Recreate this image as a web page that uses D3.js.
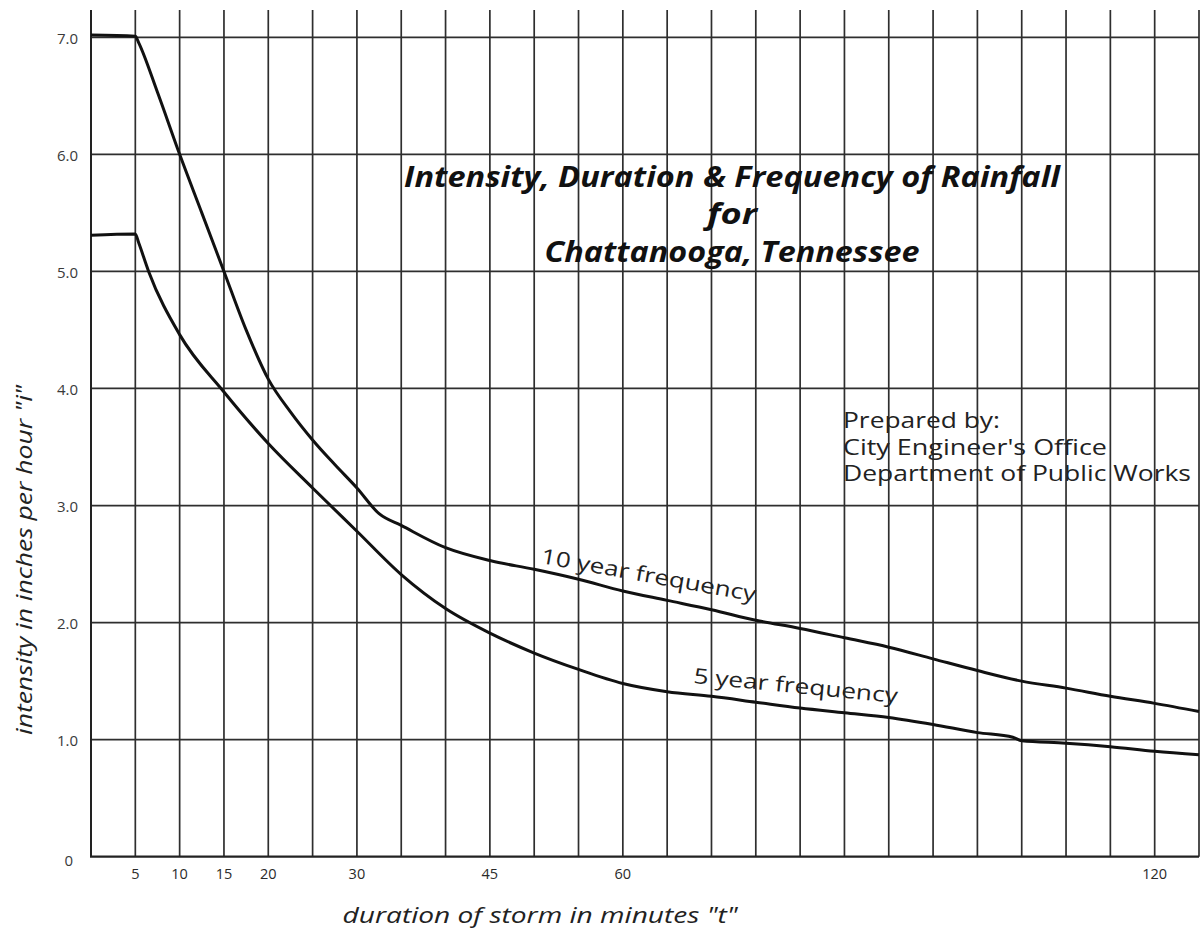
<!DOCTYPE html>
<html>
<head>
<meta charset="utf-8">
<script src="https://cdn.jsdelivr.net/npm/d3@7"></script>
<style>
  html, body { margin: 0; padding: 0; background: #fff; }
  svg { display: block; }
</style>
</head>
<body>
<svg id="chart" width="1201" height="932"></svg>
<script>
// ---- data ----
const durations10 = [0, 5, 5.4, 7.5, 10, 12.5, 15, 17.5, 20, 22.5, 25, 27.5, 30, 32.5, 35, 40, 45, 50, 55, 60, 65, 70, 75, 80, 85, 90, 95, 100, 105, 110, 115, 120, 125];
const intensity10 = [7.02, 7.01, 6.95, 6.53, 6.0, 5.5, 5.0, 4.5, 4.08, 3.8, 3.56, 3.35, 3.15, 2.93, 2.83, 2.64, 2.53, 2.455, 2.37, 2.27, 2.19, 2.11, 2.02, 1.95, 1.87, 1.79, 1.69, 1.59, 1.50, 1.44, 1.37, 1.31, 1.24];

const durations5 = [0, 5, 5.4, 6.5, 10, 15, 20, 25, 30, 35, 40, 45, 50, 55, 60, 65, 70, 75, 80, 85, 90, 95, 100, 104, 105, 110, 115, 120, 125];
const intensity5 = [5.31, 5.32, 5.24, 5.0, 4.46, 3.97, 3.53, 3.15, 2.78, 2.41, 2.12, 1.91, 1.74, 1.60, 1.48, 1.41, 1.37, 1.32, 1.27, 1.23, 1.19, 1.13, 1.06, 1.02, 0.99, 0.97, 0.94, 0.90, 0.87];

const xTickValues = [5, 10, 15, 20, 30, 45, 60, 120];
const xTickLabels = ["5", "10", "15", "20", "30", "45", "60", "120"];
const yTickValues = [0, 1, 2, 3, 4, 5, 6, 7];
const yTickLabels = ["0", "1.0", "2.0", "3.0", "4.0", "5.0", "6.0", "7.0"];
const xGridValues = d3.range(5, 126, 5);
const yGridValues = [1, 2, 3, 4, 5, 6, 7];

const titleLines = ["Intensity, Duration & Frequency of Rainfall", "for", "Chattanooga, Tennessee"];
const creditLines = ["Prepared by:", "City Engineer's Office", "Department of Public Works"];
const xAxisTitle = "duration of storm in minutes \"t\"";
const yAxisTitle = "intensity in inches per hour \"i\"";
const label10 = "10 year frequency";
const label5 = "5 year frequency";

// ---- layout ----
const svg = d3.select("#chart");
const x = d3.scaleLinear().domain([0, 125]).range([91, 1199]);
const y = d3.scaleLinear().domain([0, 7]).range([856.7, 37.3]);
const topY = 10;
const gridColor = "#2e2e2e";
const font = "'Open Sans', 'Noto Sans', 'Liberation Sans', sans-serif";

// grid
svg.append("g").selectAll("line").data(xGridValues).join("line")
  .attr("x1", d => x(d)).attr("x2", d => x(d))
  .attr("y1", topY).attr("y2", y(0))
  .attr("stroke", gridColor).attr("stroke-width", 1.7);

svg.append("g").selectAll("line").data(yGridValues).join("line")
  .attr("x1", x(0)).attr("x2", x(125))
  .attr("y1", d => y(d)).attr("y2", d => y(d))
  .attr("stroke", gridColor).attr("stroke-width", 1.7);

// axes lines
svg.append("line").attr("x1", x(0)).attr("x2", x(0)).attr("y1", topY).attr("y2", y(0))
  .attr("stroke", "#222").attr("stroke-width", 2);
svg.append("line").attr("x1", x(0) - 1).attr("x2", x(125)).attr("y1", y(0)).attr("y2", y(0))
  .attr("stroke", "#222").attr("stroke-width", 2.2);

// tick labels
svg.append("g").selectAll("text").data(yTickValues).join("text")
  .attr("x", (d) => d === 0 ? 73 : 78)
  .attr("y", d => y(d) + (d === 0 ? 4 : 1))
  .attr("dy", "0.35em")
  .attr("text-anchor", "end")
  .attr("font-family", font).attr("font-size", 15)
  .attr("fill", "#3a3a3a")
  .text((d, i) => yTickLabels[i]);

svg.append("g").selectAll("text").data(xTickValues).join("text")
  .attr("x", d => x(d))
  .attr("y", 879)
  .attr("text-anchor", "middle")
  .attr("font-family", font).attr("font-size", 14.5)
  .attr("fill", "#2a2a2a")
  .text((d, i) => xTickLabels[i]);

// curves
const line = d3.line().x(d => x(d[0])).y(d => y(d[1])).curve(d3.curveMonotoneX);
svg.append("path")
  .attr("d", line(d3.zip(durations10, intensity10)))
  .attr("fill", "none").attr("stroke", "#111").attr("stroke-width", 3)
  .attr("stroke-linejoin", "round");
svg.append("path")
  .attr("d", line(d3.zip(durations5, intensity5)))
  .attr("fill", "none").attr("stroke", "#111").attr("stroke-width", 3)
  .attr("stroke-linejoin", "round");

// title
const titleSpecs = [
  { y: 187, len: 656 },
  { y: 224, len: 50 },
  { y: 262, len: 375 }
];
svg.append("g").selectAll("text").data(titleLines).join("text")
  .attr("x", 732)
  .attr("y", (d, i) => titleSpecs[i].y)
  .attr("text-anchor", "middle")
  .attr("font-family", font)
  .attr("font-size", 29)
  .attr("font-weight", "bold")
  .attr("font-style", "italic")
  .attr("fill", "#111")
  .attr("textLength", (d, i) => titleSpecs[i].len)
  .attr("lengthAdjust", "spacingAndGlyphs")
  .text(d => d);

// credits
const creditSpecs = [
  { y: 428, len: 157 },
  { y: 455, len: 264 },
  { y: 481, len: 348 }
];
svg.append("g").selectAll("text").data(creditLines).join("text")
  .attr("x", 843)
  .attr("y", (d, i) => creditSpecs[i].y)
  .attr("font-family", font)
  .attr("font-size", 21)
  .attr("fill", "#222")
  .attr("textLength", (d, i) => creditSpecs[i].len)
  .attr("lengthAdjust", "spacingAndGlyphs")
  .text(d => d);

// curve labels
svg.append("text")
  .attr("transform", "translate(540,563) rotate(10.2)")
  .attr("font-family", font).attr("font-size", 21)
  .attr("fill", "#222")
  .attr("textLength", 218).attr("lengthAdjust", "spacingAndGlyphs")
  .text(label10);
svg.append("text")
  .attr("transform", "translate(693,683) rotate(5.6)")
  .attr("font-family", font).attr("font-size", 21)
  .attr("fill", "#222")
  .attr("textLength", 205).attr("lengthAdjust", "spacingAndGlyphs")
  .text(label5);

// axis titles
svg.append("text")
  .attr("x", 540).attr("y", 923)
  .attr("text-anchor", "middle")
  .attr("font-family", font).attr("font-size", 21)
  .attr("font-style", "italic")
  .attr("fill", "#222")
  .attr("textLength", 395).attr("lengthAdjust", "spacingAndGlyphs")
  .text(xAxisTitle);

svg.append("text")
  .attr("transform", "translate(32,560) rotate(-90)")
  .attr("text-anchor", "middle")
  .attr("font-family", font).attr("font-size", 21)
  .attr("font-style", "italic")
  .attr("fill", "#222")
  .attr("textLength", 350).attr("lengthAdjust", "spacingAndGlyphs")
  .text(yAxisTitle);
</script>
</body>
</html>
